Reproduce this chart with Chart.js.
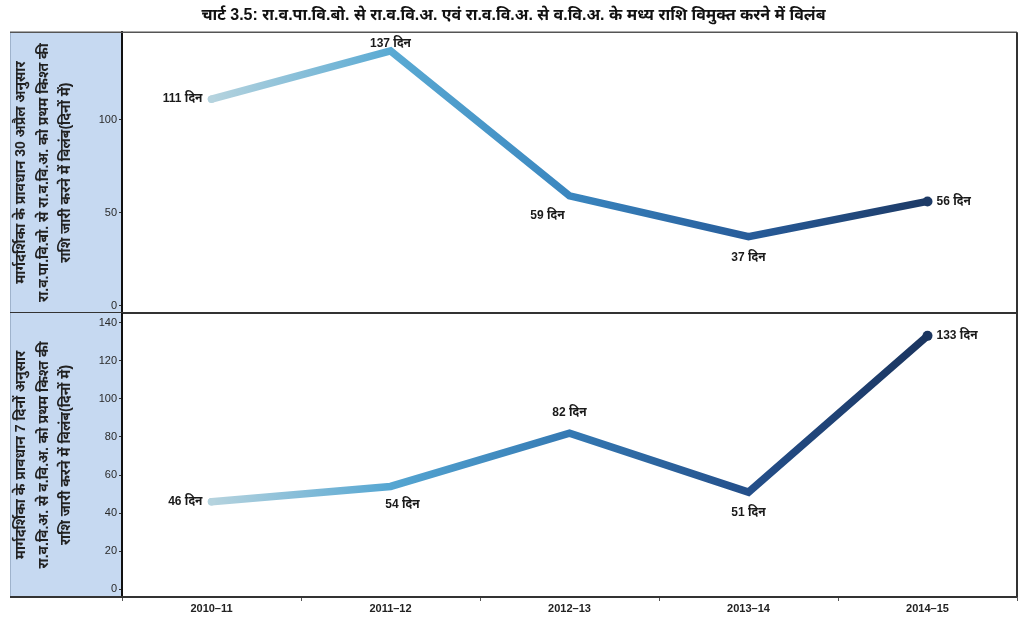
<!DOCTYPE html>
<html><head><meta charset="utf-8">
<script src="https://cdn.jsdelivr.net/npm/chart.js@4.4.1/dist/chart.umd.min.js"></script>
<style>
body{margin:0;background:#fff;}
#wrap{position:relative;width:1023px;height:621px;overflow:hidden;}
.c{position:absolute;left:0;width:1023px;}
</style>
</head><body>
<div id="wrap">
<div class="c" style="top:0;height:314px"><canvas id="c1"></canvas></div>
<div class="c" style="top:313px;height:308px"><canvas id="c2"></canvas></div>
</div>
<script>
// ---- data ----
const categories = ['2010–11', '2011–12', '2012–13', '2013–14', '2014–15'];
const stateDelayDays = [111, 137, 59, 37, 56];      // upper panel
const districtDelayDays = [46, 54, 82, 51, 133];    // lower panel
const topTickValues = [0, 50, 100];
const bottomTickValues = [0, 20, 40, 60, 80, 100, 120, 140];
const unitLabel = 'दिन';
const chartTitle = 'चार्ट 3.5: रा.व.पा.वि.बो. से रा.व.वि.अ. एवं रा.व.वि.अ. से व.वि.अ. के मध्य राशि विमुक्त करने में विलंब';
const topAxisTitle = ['मार्गदर्शिका के प्रावधान 30 अप्रैल अनुसार', 'रा.व.पा.वि.बो. से रा.व.वि.अ. को प्रथम किश्त की', 'राशि जारी करने में विलंब(दिनों में)'];
const bottomAxisTitle = ['मार्गदर्शिका के प्रावधान 7 दिनों अनुसार', 'रा.व.वि.अ. से व.वि.अ. को प्रथम किश्त की', 'राशि जारी करने में विलंब(दिनों में)'];

const FONT = "'Liberation Sans', Arial, 'Noto Sans', sans-serif";
const topStops = ['#b5d3de', '#5aaad3', '#3a86bf', '#275c9a', '#1d3a66'];
const bottomStops = ['#b5d3de', '#55a6d2', '#3479b3', '#244f8a', '#1b355f'];

function gradientFor(stops) {
  return function (ctx) {
    const chart = ctx.chart;
    if (!chart.chartArea) return stops[2];
    const xs = chart.scales.x;
    const x0 = xs.getPixelForValue(0), x1 = xs.getPixelForValue(categories.length - 1);
    const g = chart.ctx.createLinearGradient(x0, 0, x1, 0);
    stops.forEach((c, i) => g.addColorStop(i / (stops.length - 1), c));
    return g;
  };
}

const panelPlugin = {
  id: 'panel',
  beforeDraw(chart, args, opts) {
    const { ctx, chartArea: a } = chart;
    ctx.save();
    ctx.fillStyle = '#c6d9f1';
    ctx.fillRect(10, a.top, a.left - 10, a.bottom - a.top);
    ctx.strokeStyle = '#9fb3cc';
    ctx.lineWidth = 1;
    ctx.beginPath(); ctx.moveTo(10.5, a.top); ctx.lineTo(10.5, a.bottom); ctx.stroke();
    // axis title (rotated, 3 lines)
    ctx.fillStyle = '#222';
    ctx.font = 'bold 14px ' + FONT;
    ctx.textAlign = 'center';
    ctx.textBaseline = 'middle';
    const cy = (a.top + a.bottom) / 2;
    opts.title.forEach((line, i) => {
      ctx.save();
      ctx.translate(opts.titleX[i], cy);
      ctx.rotate(-Math.PI / 2);
      ctx.fillText(line, 0, 0);
      ctx.restore();
    });
    ctx.restore();
  },
  afterDraw(chart, args, opts) {
    const { ctx, chartArea: a } = chart;
    ctx.save();
    ctx.strokeStyle = '#555';
    ctx.lineWidth = 1.5;
    if (opts.topLine) {
      ctx.beginPath(); ctx.moveTo(10, a.top); ctx.lineTo(a.right, a.top); ctx.stroke();
    }
    ctx.strokeStyle = '#333';
    ctx.lineWidth = 2;
    ctx.beginPath(); ctx.moveTo(a.right, a.top); ctx.lineTo(a.right, a.bottom); ctx.stroke();
    ctx.beginPath(); ctx.moveTo(10, a.bottom); ctx.lineTo(a.right, a.bottom); ctx.stroke();
    // data labels
    const meta = chart.getDatasetMeta(0);
    const data = chart.data.datasets[0].data;
    ctx.fillStyle = '#1a1a1a';
    ctx.font = 'bold 12px ' + FONT;
    ctx.textBaseline = 'middle';
    meta.data.forEach((pt, i) => {
      const p = opts.placement[i];
      ctx.textAlign = p[0];
      let y = pt.y + p[2];
      y = Math.max(y, a.top + 11);
      ctx.fillText(data[i] + ' ' + unitLabel, pt.x + p[1], y);
    });
    ctx.restore();
  }
};

function makeChart(id, values, stops, ticks, min, max, isTop, title, placement) {
  const xScale = {
    display: !isTop,
    offset: true,
    grid: { display: true, offset: true, drawOnChartArea: false, tickLength: 4, color: '#555' },
    border: { display: false },
    ticks: { color: '#222', font: { family: FONT, size: 11, weight: 'bold' }, padding: 1, maxRotation: 0 },
    afterFit(s) { s.paddingLeft = 0; s.paddingRight = 0; }
  };
  if (!isTop) xScale.afterFit = function (s) { s.height = 24; s.paddingLeft = 0; s.paddingRight = 0; };
  return new Chart(document.getElementById(id), {
    type: 'line',
    data: {
      labels: categories,
      datasets: [{
        data: values,
        borderColor: gradientFor(stops),
        borderWidth: 7.5,
        borderCapStyle: 'round',
        borderJoinStyle: 'miter',
        tension: 0,
        fill: false,
        clip: false,
        pointRadius: [3.7, 0, 0, 0, 5],
        pointHoverRadius: 0,
        pointBorderWidth: 0,
        pointBackgroundColor: stops
      }]
    },
    options: {
      responsive: true,
      maintainAspectRatio: false,
      animation: false,
      events: [],
      layout: { autoPadding: false, padding: { left: 10, right: 6, top: 0, bottom: isTop ? 1 : 0 } },
      plugins: {
        legend: { display: false },
        tooltip: { enabled: false },
        title: isTop ? {
          display: true, text: chartTitle, color: '#111',
          font: { family: FONT, size: 16, weight: 'bold' },
          padding: { top: 6, bottom: 7 }
        } : { display: false },
        panel: { title: title, titleX: [21, 44, 66], topLine: isTop, placement: placement }
      },
      scales: {
        x: xScale,
        y: {
          min: min, max: max,
          afterBuildTicks(s) { s.ticks = ticks.map(v => ({ value: v })); },
          grid: { display: true, drawOnChartArea: false, tickLength: 3, color: '#333' },
          border: { display: true, color: '#111', width: 2 },
          ticks: { color: '#2a2a2a', font: { family: FONT, size: 11 }, padding: 2 },
          afterFit(s) { s.width = 112; s.paddingTop = 0; s.paddingBottom = 0; }
        }
      }
    },
    plugins: [panelPlugin]
  });
}

makeChart('c1', stateDelayDays, topStops, topTickValues, -4, 147, true, topAxisTitle,
  [['right', -9, 0], ['center', 0, -16], ['center', -22, 20], ['center', 0, 21], ['left', 9, 0]]);
makeChart('c2', districtDelayDays, bottomStops, bottomTickValues, -4, 145, false, bottomAxisTitle,
  [['right', -9, 0], ['center', 12, 18], ['center', 0, -20], ['center', 0, 21], ['left', 9, 0]]);
</script>
</body></html>
